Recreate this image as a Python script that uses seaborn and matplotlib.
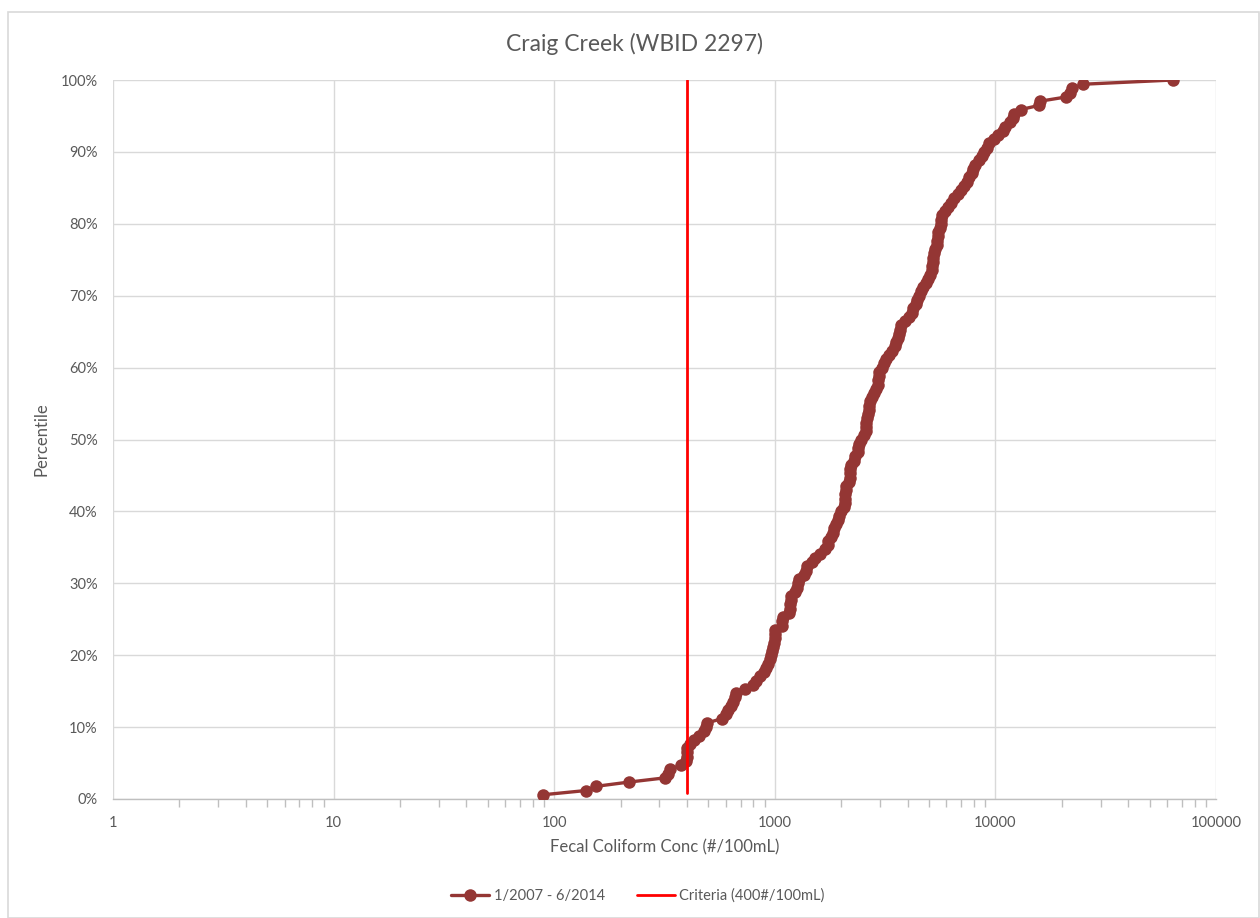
import numpy as np
import pandas as pd
import matplotlib
matplotlib.use("Agg")
import matplotlib.pyplot as plt
from matplotlib.patches import Rectangle
from matplotlib.lines import Line2D
from matplotlib.ticker import FixedLocator, FuncFormatter, LogLocator, NullFormatter
import seaborn as sns

# ---- data ----
title = "Craig Creek (WBID 2297)"
series_label = "1/2007 - 6/2014"
criteria_label = "Criteria (400#/100mL)"
x_label = "Fecal Coliform Conc (#/100mL)"
y_label = "Percentile"

conc = [
    89, 139, 155, 218, 318, 327, 336, 375, 396, 398,
    400, 402, 412, 432, 452, 478, 490, 495, 575, 598,
    612, 630, 645, 660, 664, 735, 800, 825, 860, 890,
    915, 935, 955, 965, 975, 985, 995, 1000, 1000, 1005,
    1075, 1080, 1090, 1160, 1170, 1175, 1180, 1190, 1240, 1260,
    1270, 1290, 1360, 1380, 1400, 1480, 1520, 1600, 1680, 1740,
    1750, 1800, 1840, 1860, 1900, 1940, 1960, 2000, 2050, 2070,
    2080, 2090, 2100, 2110, 2180, 2190, 2200, 2200, 2210, 2280,
    2320, 2380, 2390, 2400, 2450, 2550, 2580, 2600, 2600, 2620,
    2640, 2660, 2680, 2700, 2750, 2820, 2880, 2930, 2950, 2960,
    2980, 3050, 3120, 3200, 3310, 3400, 3520, 3560, 3600, 3640,
    3700, 3720, 3900, 4050, 4200, 4250, 4350, 4420, 4500, 4600,
    4700, 4850, 4950, 5050, 5150, 5170, 5200, 5220, 5250, 5350,
    5420, 5450, 5480, 5520, 5600, 5650, 5680, 5700, 5900, 6100,
    6300, 6500, 6800, 7000, 7200, 7400, 7600, 7800, 7950, 8100,
    8400, 8700, 8900, 9200, 9400, 9900, 10300, 10800, 11000, 11700,
    12000, 12100, 13000, 15800, 16000, 21000, 21800, 22200, 25000, 64000,
]

criteria_x = [400, 400]
criteria_y = [0.008, 1.0]

y_ticks = [0.0, 0.1, 0.2, 0.3, 0.4, 0.5, 0.6, 0.7, 0.8, 0.9, 1.0]
x_ticks = [1, 10, 100, 1000, 10000, 100000]

# percentile = rank / n (empirical cumulative distribution)
n = len(conc)
df = pd.DataFrame({"conc": sorted(conc),
                   "pct": [(i + 1) / n for i in range(n)]})
crit = pd.DataFrame({"conc": criteria_x, "pct": criteria_y})

# ---- style ----
sns.set_theme(style="white")
plt.rcParams["font.family"] = ["Lato", "DejaVu Sans"]
text_color = "#595959"
grid_color = "#d9d9d9"
series_color = "#943634"
crit_color = "#ff0000"

fig = plt.figure(figsize=(12.6, 9.18), dpi=100)
ax = fig.add_axes([113 / 1260, 1 - 799 / 918, (1216 - 113) / 1260, (799 - 80) / 918])

# figure border
fig.patches.append(Rectangle((8 / 1260, 0.0), 1 - 8 / 1260 - 0.001, 1 - 12 / 918,
                             transform=fig.transFigure, fill=False,
                             edgecolor="#d9d9d9", linewidth=1.2, zorder=0))

sns.lineplot(data=df, x="conc", y="pct", ax=ax, color=series_color,
             linewidth=2.4, marker="o", markersize=9, markeredgewidth=0,
             sort=False, estimator=None, zorder=3)
sns.lineplot(data=crit, x="conc", y="pct", ax=ax, color=crit_color,
             linewidth=2.0, sort=False, estimator=None, zorder=4)

ax.set_xscale("log")
ax.set_xlim(1, 100000)
ax.set_ylim(0, 1)

ax.xaxis.set_major_locator(FixedLocator(x_ticks))
ax.xaxis.set_major_formatter(FuncFormatter(lambda v, p: f"{int(round(v))}"))
ax.xaxis.set_minor_locator(LogLocator(base=10, subs=np.arange(2, 10), numticks=100))
ax.xaxis.set_minor_formatter(NullFormatter())
ax.yaxis.set_major_locator(FixedLocator(y_ticks))
ax.yaxis.set_major_formatter(FuncFormatter(lambda v, p: f"{v * 100:.0f}%"))

ax.grid(True, which="major", axis="both", color=grid_color, linewidth=1.0, zorder=0)
ax.set_axisbelow(True)
for side in ["top", "right", "left"]:
    ax.spines[side].set_visible(False)
ax.spines["bottom"].set_color("#bfbfbf")
ax.spines["bottom"].set_linewidth(1.0)

ax.tick_params(axis="x", which="major", length=6, color="#bfbfbf", width=1.0,
               labelsize=10.5, labelcolor=text_color, pad=6, direction="out")
ax.tick_params(axis="x", which="minor", length=6, color="#bfbfbf", width=1.0,
               direction="out", bottom=True)
ax.tick_params(axis="y", which="major", length=0, labelsize=10.5,
               labelcolor=text_color, pad=11)

ax.set_xlabel(x_label, fontsize=12, color=text_color, labelpad=7)
ax.set_ylabel(y_label, fontsize=12, color=text_color, labelpad=8)
fig.text(635 / 1260, 1 - 44 / 918, title, ha="center", va="center",
         fontsize=16.5, color=text_color)

handles = [
    Line2D([], [], color=series_color, linewidth=2.4, marker="o", markersize=9,
           markeredgewidth=0),
    Line2D([], [], color=crit_color, linewidth=2.0),
]
fig.legend(handles, [series_label, criteria_label], loc="center",
           bbox_to_anchor=(638 / 1260, 1 - 896 / 918), ncol=2, frameon=False,
           fontsize=10.5, labelcolor=text_color, handlelength=2.6,
           columnspacing=2.2, handletextpad=0.3)

fig.savefig("out.png", dpi=100, facecolor="white")
